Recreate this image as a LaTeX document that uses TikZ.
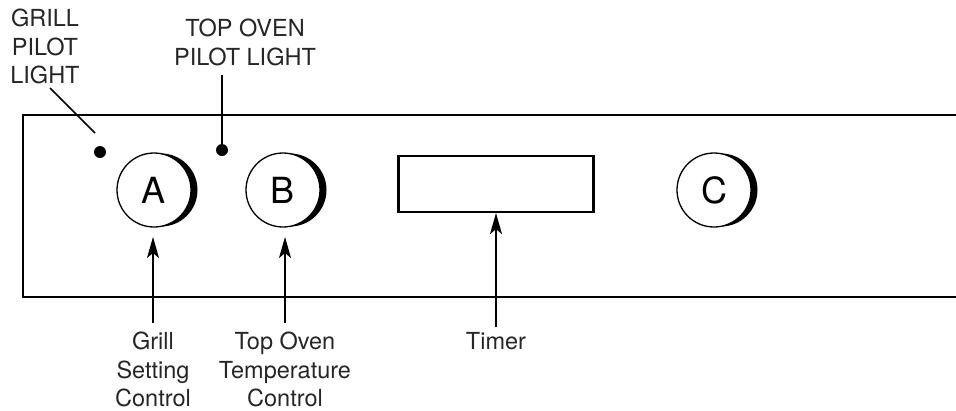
\documentclass[tikz,border=0pt]{standalone}
\usepackage{fontspec}
\setmainfont{TeX Gyre Heros}
\usetikzlibrary{arrows.meta}
\begin{document}
\begin{tikzpicture}[x=1pt,y=-1pt,
  knob/.style={circle,draw,line width=1.3pt,fill=white,minimum size=74pt,inner sep=0pt,font=\fontsize{36}{36}\selectfont},
  shade/.style={fill=black},
  lbl/.style={align=center,font=\fontsize{23.5}{28.5}\selectfont,inner sep=0pt,anchor=north,text=black!85},
  arr/.style={-{Stealth[length=21pt,width=12pt,inset=5pt]},line width=1.1pt},
  lead/.style={line width=1.6pt},
  pdot/.style={circle,fill,inner sep=0pt,minimum size=12pt}]
\useasboundingbox (0,0) rectangle (956,410);
% panel
\draw[line width=2.8pt] (956,115) -- (23,115) -- (23,297) -- (956,297);
% knobs
\fill[shade] (161,190) circle (36.5);
\node[knob] (A) at (154,190) {A};
\fill[shade] (290,190) circle (36.5);
\node[knob] (B) at (283,190) {B};
\fill[shade] (721,190) circle (36.5);
\node[knob] (C) at (714,190) {C};
% timer
\node[draw,line width=2.2pt,minimum width=195pt,minimum height=56pt,inner sep=0pt] (T) at (496,184) {};
% pilot lights
\node[pdot] (gp) at (100,152) {};
\node[pdot] (tp) at (222,150) {};
\node[lbl] (gpl) at (45,9) {GRILL\\PILOT\\LIGHT};
\node[lbl] (tpl) at (245,19) {TOP OVEN\\PILOT LIGHT};
\coordinate (gpe) at (50,88);
\coordinate (gpf) at (95,133);
\coordinate (tpe) at (222,75);
\draw[lead] (gpe) -- (gpf);
\draw[lead] (tpe) -- (tp.center);
% bottom labels
\node[lbl] (al) at (153,332) {Grill\\Setting\\Control};
\node[lbl] (bl) at (285,332) {Top Oven\\Temperature\\Control};
\node[lbl] (tl) at (496,332) {Timer};
\coordinate (at) at (153,323);
\coordinate (bt) at (285,323);
\coordinate (tt) at (496,327);
\coordinate (ah) at (153,237);
\coordinate (bh) at (285,237);
\draw[arr] (at) -- (ah);
\draw[arr] (bt) -- (bh);
\draw[arr] (tt) -- (T.south);
\end{tikzpicture}
\end{document}
